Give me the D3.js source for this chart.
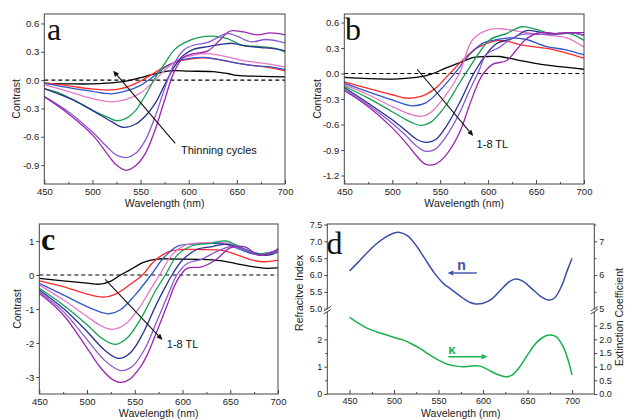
<!DOCTYPE html>
<html>
<head>
<meta charset="utf-8">
<script src="https://cdn.jsdelivr.net/npm/d3@7"></script>
<style>
  html, body { margin: 0; padding: 0; background: #fff; }
  svg text { font-family: 'Liberation Sans', Arial, sans-serif; }
</style>
</head>
<body>
<svg id="fig" width="625" height="420"></svg>
<script>
// ---------- data: [wavelength nm, contrast] ----------
// Panel a: successive thinning cycles
const a1 = [[450,-0.035],[475,-0.04],[500,-0.04],[525,-0.025],[540,0],[555,0.04],[575,0.09],[585,0.1],[600,0.095],[625,0.09],[640,0.07],[650,0.05],[675,0.04],[700,0.035]];
const a2 = [[450,-0.03],[475,-0.06],[500,-0.095],[515,-0.105],[530,-0.09],[545,-0.035],[560,0.05],[575,0.14],[590,0.2],[600,0.22],[615,0.235],[630,0.22],[650,0.18],[670,0.15],[685,0.13],[700,0.1]];
const a3 = [[450,-0.035],[475,-0.08],[500,-0.12],[520,-0.145],[535,-0.115],[550,-0.055],[565,0.05],[580,0.165],[595,0.22],[615,0.24],[630,0.22],[650,0.18],[670,0.15],[685,0.14],[700,0.11]];
const a4 = [[450,-0.05],[475,-0.12],[500,-0.195],[520,-0.23],[535,-0.205],[550,-0.135],[565,0],[575,0.105],[590,0.22],[605,0.265],[620,0.28],[640,0.245],[660,0.2],[680,0.175],[700,0.14]];
const a5 = [[450,-0.09],[465,-0.135],[480,-0.21],[500,-0.32],[515,-0.39],[525,-0.43],[535,-0.405],[545,-0.32],[555,-0.16],[565,0.02],[575,0.175],[585,0.32],[595,0.395],[610,0.45],[625,0.465],[640,0.44],[655,0.37],[675,0.355],[690,0.335],[700,0.3]];
const a6 = [[450,-0.09],[480,-0.21],[500,-0.32],[520,-0.44],[532,-0.5],[545,-0.465],[555,-0.38],[565,-0.25],[575,-0.05],[585,0.14],[595,0.265],[605,0.325],[620,0.355],[635,0.38],[645,0.39],[660,0.36],[675,0.345],[690,0.33],[700,0.31]];
const a7 = [[450,-0.175],[475,-0.335],[500,-0.55],[515,-0.705],[525,-0.795],[535,-0.82],[545,-0.775],[555,-0.635],[565,-0.39],[575,-0.09],[585,0.175],[595,0.32],[605,0.37],[620,0.4],[640,0.495],[650,0.465],[665,0.405],[680,0.43],[700,0.395]];
const a8 = [[450,-0.175],[475,-0.355],[500,-0.58],[515,-0.775],[525,-0.9],[535,-0.955],[545,-0.905],[555,-0.775],[565,-0.53],[575,-0.21],[585,0.09],[595,0.245],[605,0.28],[620,0.31],[632,0.42],[643,0.52],[657,0.51],[671,0.48],[685,0.5],[700,0.48]];

// Panel b: 1-8 TL
const b1 = [[450,-0.045],[475,-0.06],[500,-0.065],[525,-0.045],[540,-0.01],[555,0.06],[570,0.125],[585,0.19],[600,0.2],[612,0.2],[630,0.16],[654,0.11],[675,0.08],[700,0.05]];
const b2 = [[450,-0.1],[475,-0.175],[500,-0.25],[515,-0.29],[530,-0.27],[545,-0.175],[560,0],[575,0.175],[590,0.31],[612,0.39],[637,0.33],[664,0.29],[682,0.24],[700,0.18]];
const b3 = [[450,-0.115],[475,-0.215],[500,-0.31],[520,-0.38],[535,-0.345],[550,-0.195],[565,0],[580,0.215],[595,0.36],[610,0.4],[625,0.42],[640,0.4],[660,0.32],[680,0.28],[700,0.22]];
const b4 = [[450,-0.135],[475,-0.25],[500,-0.39],[520,-0.485],[530,-0.505],[540,-0.46],[555,-0.27],[570,0],[584,0.4],[602,0.52],[619,0.52],[640,0.48],[664,0.45],[682,0.42],[700,0.31]];
const b5 = [[450,-0.15],[475,-0.29],[500,-0.45],[520,-0.575],[530,-0.61],[540,-0.575],[555,-0.39],[570,-0.115],[580,0.06],[590,0.235],[602,0.4],[619,0.47],[635,0.55],[650,0.52],[668,0.46],[685,0.47],[700,0.39]];
const b6 = [[450,-0.165],[475,-0.35],[500,-0.545],[515,-0.68],[525,-0.77],[535,-0.81],[545,-0.78],[555,-0.645],[570,-0.35],[585,0],[600,0.255],[610,0.36],[625,0.41],[640,0.505],[655,0.485],[670,0.47],[685,0.48],[700,0.45]];
const b7 = [[450,-0.185],[475,-0.37],[500,-0.585],[515,-0.74],[525,-0.85],[535,-0.915],[545,-0.89],[555,-0.76],[570,-0.47],[580,-0.215],[590,0.02],[598,0.22],[612,0.31],[623,0.4],[635,0.46],[655,0.46],[670,0.46],[685,0.48],[700,0.45]];
const b8 = [[450,-0.2],[475,-0.39],[500,-0.64],[515,-0.825],[525,-0.965],[535,-1.07],[545,-1.065],[555,-0.975],[570,-0.7],[580,-0.39],[590,-0.1],[595,0.0],[605,0.11],[619,0.15],[629,0.27],[640,0.41],[654,0.48],[670,0.47],[685,0.48],[700,0.48]];

// Panel c: 1-8 TL
const c1 = [[450,-0.1],[475,-0.17],[500,-0.24],[513,-0.27],[525,-0.18],[535,0],[545,0.15],[559,0.37],[573,0.47],[590,0.47],[620,0.46],[640,0.42],[655,0.34],[670,0.26],[685,0.2],[700,0.21]];
const c2 = [[450,-0.17],[475,-0.34],[500,-0.56],[517,-0.65],[530,-0.56],[545,-0.28],[558,0],[570,0.4],[585,0.68],[600,0.75],[620,0.75],[640,0.73],[655,0.615],[670,0.46],[685,0.39],[700,0.44]];
const c3 = [[450,-0.245],[475,-0.585],[500,-0.93],[515,-1.1],[523,-1.14],[535,-1.02],[550,-0.6],[567,0],[580,0.5],[595,0.85],[610,0.91],[630,0.93],[645,0.91],[660,0.75],[675,0.615],[690,0.655],[700,0.73]];
const c4 = [[450,-0.29],[475,-0.73],[500,-1.22],[515,-1.5],[527,-1.6],[540,-1.45],[555,-0.95],[567,-0.4],[576,0],[590,0.62],[605,0.9],[625,0.95],[640,0.96],[655,0.88],[670,0.71],[685,0.61],[700,0.73]];
const c5 = [[450,-0.39],[475,-0.88],[500,-1.46],[515,-1.85],[529,-2.04],[542,-1.85],[557,-1.25],[572,-0.45],[582,0],[595,0.6],[610,0.86],[630,0.93],[645,1.0],[660,0.83],[675,0.655],[690,0.63],[700,0.75]];
const c6 = [[450,-0.44],[475,-0.98],[500,-1.66],[518,-2.2],[533,-2.45],[545,-2.3],[558,-1.75],[572,-0.9],[582,-0.35],[589,0],[600,0.44],[615,0.75],[630,0.83],[645,0.91],[660,0.8],[675,0.63],[690,0.585],[700,0.68]];
const c7 = [[450,-0.49],[475,-1.07],[500,-1.9],[518,-2.5],[535,-2.81],[547,-2.7],[560,-2.2],[574,-1.3],[586,-0.5],[594,0],[605,0.34],[620,0.46],[635,0.68],[650,0.83],[665,0.75],[680,0.585],[695,0.68],[700,0.75]];
const c8 = [[450,-0.54],[475,-1.17],[500,-2.15],[514,-2.72],[525,-3.04],[535,-3.16],[545,-3.06],[556,-2.7],[563,-2.35],[573,-1.67],[584,-0.88],[592,-0.29],[598,0],[605,0.2],[620,0.24],[635,0.45],[650,0.8],[665,0.83],[680,0.585],[695,0.68],[700,0.78]];

// Panel d: optical constants
const nData = [[450,6.12],[460,6.39],[470,6.67],[480,6.92],[490,7.12],[500,7.25],[505,7.27],[515,7.17],[525,6.87],[535,6.47],[545,6.07],[555,5.76],[565,5.56],[575,5.36],[585,5.19],[592,5.14],[600,5.16],[610,5.29],[620,5.56],[630,5.81],[637,5.88],[645,5.81],[655,5.59],[665,5.36],[673,5.26],[680,5.31],[688,5.66],[695,6.16],[700,6.5]];
const kData = [[450,2.8],[460,2.59],[470,2.4],[480,2.28],[490,2.18],[500,2.07],[510,1.98],[520,1.83],[530,1.65],[540,1.43],[550,1.24],[560,1.09],[570,1.02],[580,1.0],[590,1.03],[597,1.02],[605,0.9],[615,0.73],[625,0.63],[632,0.68],[640,0.94],[650,1.43],[660,1.88],[670,2.12],[676,2.16],[682,2.1],[690,1.73],[695,1.3],[700,0.7]];

// ---------- ticks ----------
const xMajor = [450, 500, 550, 600, 650, 700];
const xMinor = [475, 525, 575, 625, 675];
const aTicks = [-0.9, -0.6, -0.3, 0, 0.3, 0.6];
const bTicks = [-1.2, -0.9, -0.6, -0.3, 0, 0.3, 0.6];
const cTicks = [-3, -2, -1, 0, 1];
const nTicks = [5.0, 5.5, 6.0, 6.5, 7.0, 7.5];
const kTicksLeft = [0, 1, 2];
const nTicksRight = [5, 6, 7];
const kTicksRight = [0, 0.5, 1.0, 1.5, 2.0, 2.5];

const palette = ["#000000", "#ff2b2b", "#3356cc", "#e479c9", "#14a052", "#26318f", "#8859cf", "#9b25b0"];

const svg = d3.select("#fig");
const tickFont = 9.5, titleFont = 10.5;

function styleAxis(sel) {
  sel.select(".domain").remove();
  sel.selectAll(".tick line").attr("stroke", "#333").attr("stroke-width", 0.9);
  sel.selectAll(".tick text").attr("font-size", tickFont).attr("fill", "#222")
     .style("font-family", "'Liberation Sans', Arial, sans-serif");
}

function arrow(g, x1, y1, x2, y2, color, len, half, width) {
  const ang = Math.atan2(y2 - y1, x2 - x1);
  const bx = x2 - len * Math.cos(ang), by = y2 - len * Math.sin(ang);
  g.append("line").attr("x1", x1).attr("y1", y1).attr("x2", bx).attr("y2", by)
    .attr("stroke", color).attr("stroke-width", width);
  const px = -Math.sin(ang) * half, py = Math.cos(ang) * half;
  g.append("path")
    .attr("d", `M${x2},${y2}L${bx + px},${by + py}L${bx - px},${by - py}Z`)
    .attr("fill", color);
}

function xAxes(g, x, bottom) {
  g.append("g").attr("transform", `translate(0,${bottom})`)
    .call(d3.axisBottom(x).tickValues(xMajor).tickSizeInner(-4).tickSizeOuter(0).tickPadding(4).tickFormat(d3.format("d")))
    .call(styleAxis);
  g.append("g").attr("transform", `translate(0,${bottom})`)
    .call(d3.axisBottom(x).tickValues(xMinor).tickSizeInner(-2).tickSizeOuter(0).tickFormat(""))
    .call(styleAxis);
}

function xTitle(g, cx, baseline) {
  g.append("text").attr("x", cx).attr("y", baseline).attr("text-anchor", "middle")
    .attr("font-size", titleFont).attr("fill", "#222").text("Wavelength (nm)");
}

function yTitle(g, cx, cy, label) {
  g.append("text").attr("transform", `translate(${cx},${cy}) rotate(-90)`)
    .attr("text-anchor", "middle").attr("dominant-baseline", "central")
    .attr("font-size", titleFont).attr("fill", "#222").text(label);
}

function letter(g, x, y, ch, weight) {
  g.append("text").attr("x", x).attr("y", y).attr("font-size", 32)
    .style("font-family", "'Liberation Serif', 'Times New Roman', serif")
    .attr("font-weight", weight || "normal").attr("fill", "#111").text(ch);
}

function contrastPanel(o) {
  const g = svg.append("g");
  const x = d3.scaleLinear().domain([450, 700]).range([o.left, o.right]);
  const y = d3.scaleLinear().domain(o.yDomain).range([o.bottom, o.top]);

  xAxes(g, x, o.bottom);
  g.append("g").attr("transform", `translate(${o.left},0)`)
    .call(d3.axisLeft(y).tickValues(o.yTicks).tickSizeInner(3).tickSizeOuter(0).tickPadding(2).tickFormat(o.fmt))
    .call(styleAxis);

  // zero reference
  g.append("line").attr("x1", x(450)).attr("x2", x(700)).attr("y1", y(0)).attr("y2", y(0))
    .attr("stroke", "#000").attr("stroke-width", 1.2).attr("stroke-dasharray", "4,3");

  const line = d3.line().x(d => x(d[0])).y(d => y(d[1])).curve(d3.curveCatmullRom.alpha(0.5));
  o.curves.forEach((c, i) => {
    g.append("path").attr("d", line(c)).attr("fill", "none")
      .attr("stroke", palette[i]).attr("stroke-width", 1.3);
  });

  g.append("rect").attr("x", o.left).attr("y", o.top)
    .attr("width", o.right - o.left).attr("height", o.bottom - o.top)
    .attr("fill", "none").attr("stroke", "#444").attr("stroke-width", 1);

  arrow(g, x(o.arrow[0]), y(o.arrow[1]), x(o.arrow[2]), y(o.arrow[3]), "#111", 6, 2.6, 1.1);
  g.append("text").attr("x", x(o.label[0])).attr("y", y(o.label[1]))
    .attr("font-size", 11).attr("fill", "#111").text(o.label[2]);

  xTitle(g, (o.left + o.right) / 2, o.bottom + 22.5);
  yTitle(g, o.titleX, (o.top + o.bottom) / 2, "Contrast");
  letter(g, o.letterX, o.top + 26, o.letter, o.letterWeight);
}

const fmt1 = d => d.toFixed(1);
const fmt0 = d => d.toFixed(0);

contrastPanel({
  left: 44.3, right: 285, top: 14, bottom: 184, yDomain: [-1.1, 0.7], yTicks: aTicks, fmt: fmt1,
  curves: [a1, a2, a3, a4, a5, a6, a7, a8],
  arrow: [586, -0.67, 521.5, 0.1], label: [592, -0.78, "Thinning cycles"],
  titleX: 16, letter: "a", letterX: 47
});
contrastPanel({
  left: 344.3, right: 584, top: 14, bottom: 184, yDomain: [-1.3, 0.7], yTicks: bTicks, fmt: fmt1,
  curves: [b1, b2, b3, b4, b5, b6, b7, b8],
  arrow: [526, 0.05, 584.5, -0.735], label: [588, -0.875, "1-8 TL"],
  titleX: 317, letter: "b", letterX: 345
});
contrastPanel({
  left: 39.3, right: 278, top: 224, bottom: 394, yDomain: [-3.5, 1.5], yTicks: cTicks, fmt: fmt0,
  curves: [c1, c2, c3, c4, c5, c6, c7, c8],
  arrow: [519, -0.13, 579, -1.91], label: [583.5, -2.16, "1-8 TL"],
  titleX: 17, letter: "c", letterX: 41, letterWeight: "bold"
});

// ---------- panel d: broken y axis, n above and κ below ----------
(function () {
  const L = 327.3, R = 594.3, T = 224, B = 394;
  const g = svg.append("g");
  const x = d3.scaleLinear().domain([425, 725]).range([L, R]);
  const yn = d3.scaleLinear().domain([5.0, 7.5]).range([308.7, 224.5]);
  const yk = d3.scaleLinear().domain([0, 3]).range([B, 312]);

  xAxes(g, x, B);
  g.append("g").attr("transform", `translate(${L},0)`)
    .call(d3.axisLeft(yn).tickValues(nTicks).tickSizeInner(3).tickSizeOuter(0).tickPadding(2).tickFormat(fmt1))
    .call(styleAxis);
  g.append("g").attr("transform", `translate(${L},0)`)
    .call(d3.axisLeft(yk).tickValues(kTicksLeft).tickSizeInner(3).tickSizeOuter(0).tickPadding(2).tickFormat(fmt0))
    .call(styleAxis);
  g.append("g").attr("transform", `translate(${L},0)`)
    .call(d3.axisLeft(yk).tickValues([0.5, 1.5, 2.5]).tickSizeInner(2).tickSizeOuter(0).tickFormat(""))
    .call(styleAxis);
  g.append("g").attr("transform", `translate(${R},0)`)
    .call(d3.axisRight(yn).tickValues(nTicksRight).tickSizeInner(3).tickSizeOuter(0).tickPadding(2).tickFormat(fmt0))
    .call(styleAxis);
  g.append("g").attr("transform", `translate(${R},0)`)
    .call(d3.axisRight(yn).tickValues([5.5, 6.5, 7.5]).tickSizeInner(2).tickSizeOuter(0).tickFormat(""))
    .call(styleAxis);
  g.append("g").attr("transform", `translate(${R},0)`)
    .call(d3.axisRight(yk).tickValues(kTicksRight).tickSizeInner(3).tickSizeOuter(0).tickPadding(2).tickFormat(fmt1))
    .call(styleAxis);
  g.selectAll(".tick text").attr("font-size", 9);

  const lineN = d3.line().x(d => x(d[0])).y(d => yn(d[1])).curve(d3.curveCatmullRom.alpha(0.5));
  const lineK = d3.line().x(d => x(d[0])).y(d => yk(d[1])).curve(d3.curveCatmullRom.alpha(0.5));
  const nColor = "#3b50a6", kColor = "#19b04b";
  g.append("path").attr("d", lineN(nData)).attr("fill", "none").attr("stroke", nColor).attr("stroke-width", 1.5);
  g.append("path").attr("d", lineK(kData)).attr("fill", "none").attr("stroke", kColor).attr("stroke-width", 1.5);

  g.append("rect").attr("x", L).attr("y", T).attr("width", R - L).attr("height", B - T)
    .attr("fill", "none").attr("stroke", "#444").attr("stroke-width", 1);

  // axis break marks
  [L, R].forEach(ax => {
    g.append("rect").attr("x", ax - 2).attr("y", 309.3).attr("width", 4).attr("height", 2.4).attr("fill", "#fff");
    g.append("line").attr("x1", ax - 3.5).attr("y1", 311).attr("x2", ax + 3.5).attr("y2", 306.5)
      .attr("stroke", "#333").attr("stroke-width", 0.9);
    g.append("line").attr("x1", ax - 3.5).attr("y1", 314).attr("x2", ax + 3.5).attr("y2", 309.5)
      .attr("stroke", "#333").attr("stroke-width", 0.9);
  });

  // labels with direction arrows
  arrow(g, x(593), yn(6.06), x(560), yn(6.06), nColor, 6, 2.6, 1.4);
  g.append("text").attr("x", x(571)).attr("y", yn(6.15)).attr("font-size", 14).attr("font-weight", "bold")
    .attr("fill", nColor).text("n");
  arrow(g, x(561), yk(1.365), x(605), yk(1.365), kColor, 6, 2.6, 1.4);
  g.append("text").attr("x", x(561)).attr("y", yk(1.47)).attr("font-size", 13).attr("font-weight", "bold")
    .attr("fill", kColor).text("κ");

  xTitle(g, (L + R) / 2, B + 22.5);
  yTitle(g, 299, 293, "Refracitve Index");
  yTitle(g, 618.5, 317, "Extinction Coefficient");
  letter(g, 326.5, 254, "d");
})();
</script>
</body>
</html>
